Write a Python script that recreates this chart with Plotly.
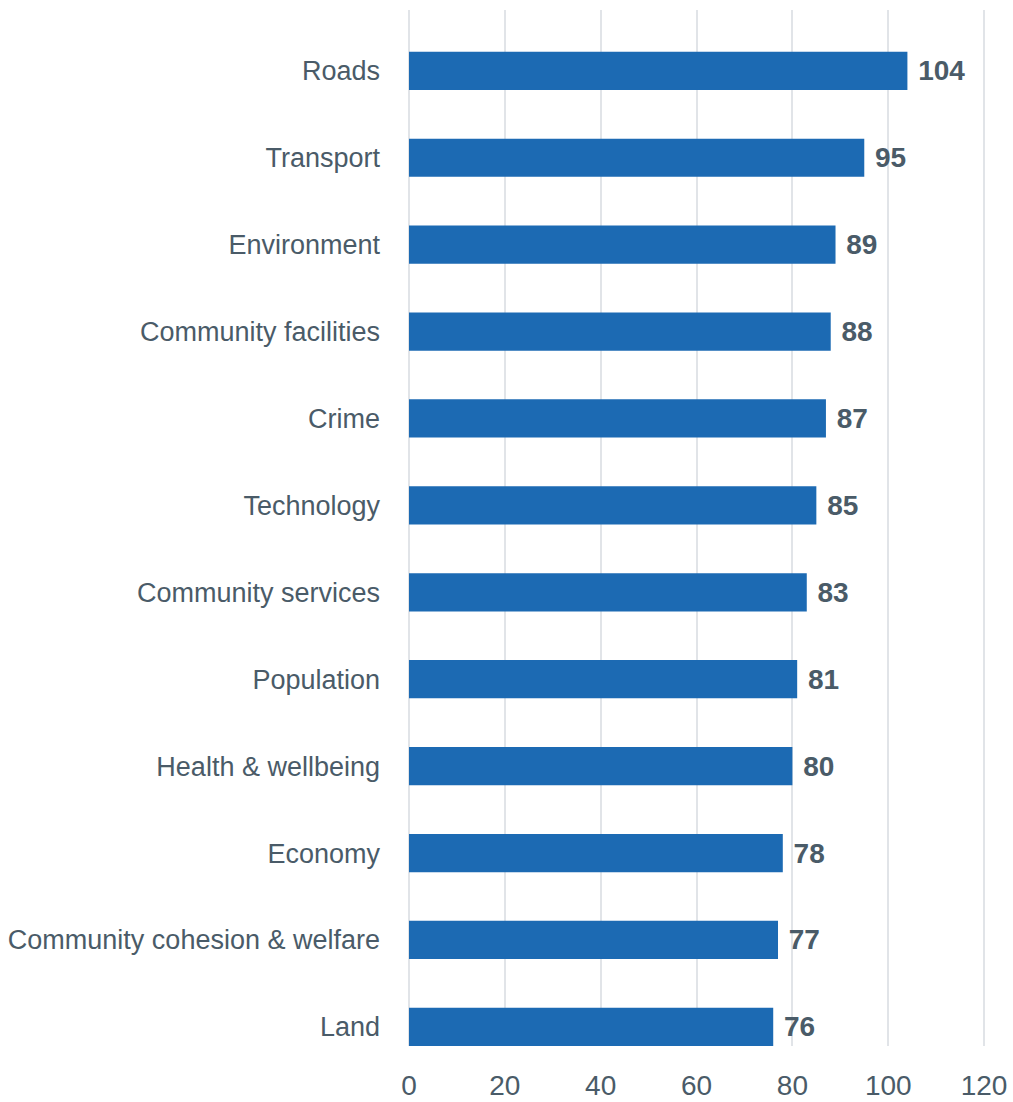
import plotly.graph_objects as go

categories = ["Roads", "Transport", "Environment", "Community facilities", "Crime",
              "Technology", "Community services", "Population", "Health & wellbeing",
              "Economy", "Community cohesion & welfare", "Land"]
values = [104, 95, 89, 88, 87, 85, 83, 81, 80, 78, 77, 76]
x_ticks = [0, 20, 40, 60, 80, 100, 120]

BAR = "#1c6ab3"
TXT = "#4a5b68"
GRID = "#e1e4e8"
FONT = "Liberation Sans, Arial, Helvetica, sans-serif"

fig = go.Figure(go.Bar(
    x=values, y=categories, orientation="h",
    marker=dict(color=BAR, line=dict(width=0)),
    text=values, texttemplate=" %{text}", textposition="outside",
    textfont=dict(family=FONT, size=28, color=TXT, weight="bold"),
    cliponaxis=False,
    width=0.44,
))

fig.update_layout(
    width=1013, height=1102,
    margin=dict(l=409, r=27, t=10, b=56),
    paper_bgcolor="white", plot_bgcolor="white",
    showlegend=False,
    font=dict(family=FONT, size=27, color=TXT),
    xaxis=dict(range=[0, 120.4], tickvals=x_ticks, showgrid=True, gridcolor=GRID,
               gridwidth=2, zeroline=True, zerolinecolor=GRID, zerolinewidth=2,
               showline=False, ticks="", ticklabelstandoff=20, automargin=False,
               tickfont=dict(size=28, color=TXT)),
    yaxis=dict(categoryorder="array", categoryarray=categories,
               range=[11.22, -0.70], showgrid=False, showline=False, automargin=False,
               ticks="", ticklabelstandoff=28, tickfont=dict(size=27, color=TXT)),
)

fig.write_html(
    "out.html",
    config={"displayModeBar": False},
    post_script="document.body.style.margin='0';document.body.style.overflow='hidden';",
)
